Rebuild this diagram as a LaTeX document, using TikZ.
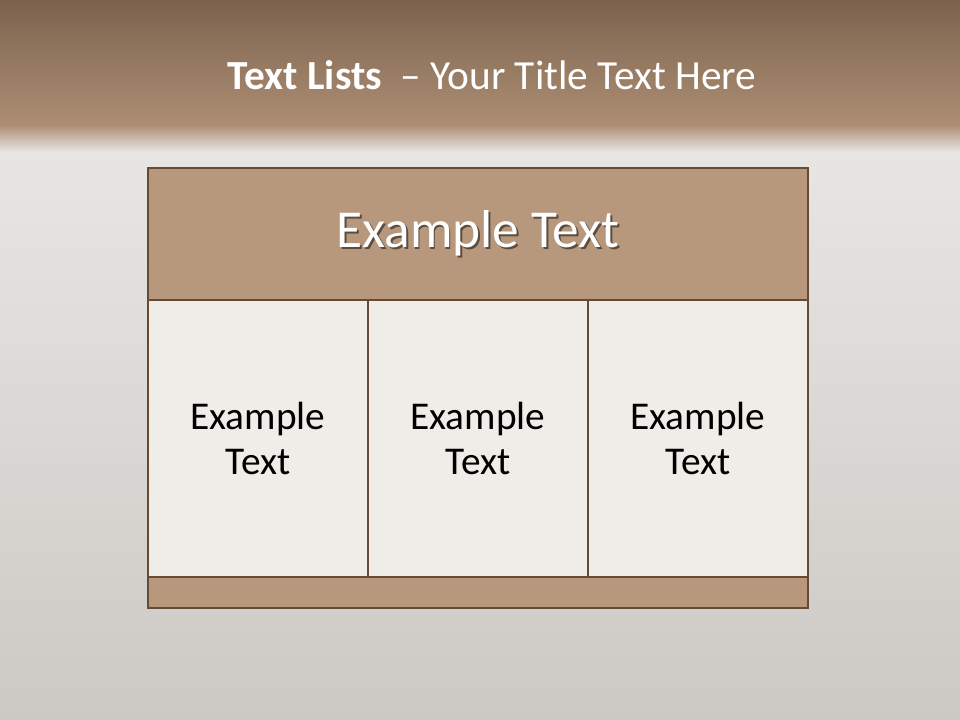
\documentclass[tikz,border=0pt]{standalone}
\usepackage{fontspec}
\setmainfont{Carlito}
\usetikzlibrary{positioning}
\definecolor{topbrown}{HTML}{7C634E}
\definecolor{midbrown}{HTML}{AD8E74}
\definecolor{lightbg}{HTML}{E8E6E3}
\definecolor{lowbg}{HTML}{CCC9C5}
\definecolor{headfill}{HTML}{B8987C}
\definecolor{cellfill}{HTML}{F0ECE7}
\definecolor{rimbrown}{HTML}{654B36}
\newcommand{\shadowtext}[1]{\makebox[0pt][l]{\hspace{1.4pt}\raisebox{-1.6pt}{\color{headfill!50!black}#1}}#1}
\begin{document}
\begin{tikzpicture}[x=0.75pt,y=-0.75pt,
    headbox/.style={draw=rimbrown,line width=2.1pt,fill=headfill,minimum width=495pt,
      minimum height=99pt,inner sep=0pt,outer sep=0pt,text=white,
      font=\fontsize{40}{48}\selectfont},
    cellbox/.style={draw=rimbrown,line width=2.1pt,fill=cellfill,minimum width=165pt,
      minimum height=207.75pt,inner sep=0pt,outer sep=0pt,align=center,text=black,
      font=\fontsize{29.5}{34}\selectfont},
    footbox/.style={draw=rimbrown,line width=2.1pt,fill=headfill,minimum width=495pt,
      minimum height=23.25pt,inner sep=0pt,outer sep=0pt}]
  \useasboundingbox (0,0) rectangle (960,720);
  % backdrop
  \shade[top color=lightbg,bottom color=lowbg] (0,150) rectangle (960,720);
  \shade[top color=topbrown,bottom color=midbrown] (0,0) rectangle (960,126);
  \shade[top color=midbrown,bottom color=lightbg] (0,125) rectangle (960,152);
  % title
  \node[text=white,font=\fontsize{31}{37}\selectfont] (title) at (492,75)
    {\textbf{Text Lists}\ \ -- Your Title Text Here};
  % table
  \node[headbox] (head) at (478,234) {\shadowtext{Example Text}};
  \node[cellbox,below right=0pt and 0pt of head.south west] (c1) {Example\\Text};
  \node[cellbox,right=0pt of c1] (c2) {Example\\Text};
  \node[cellbox,right=0pt of c2] (c3) {Example\\Text};
  \node[footbox,below=0pt of c2] (foot) {};
\end{tikzpicture}
\end{document}
